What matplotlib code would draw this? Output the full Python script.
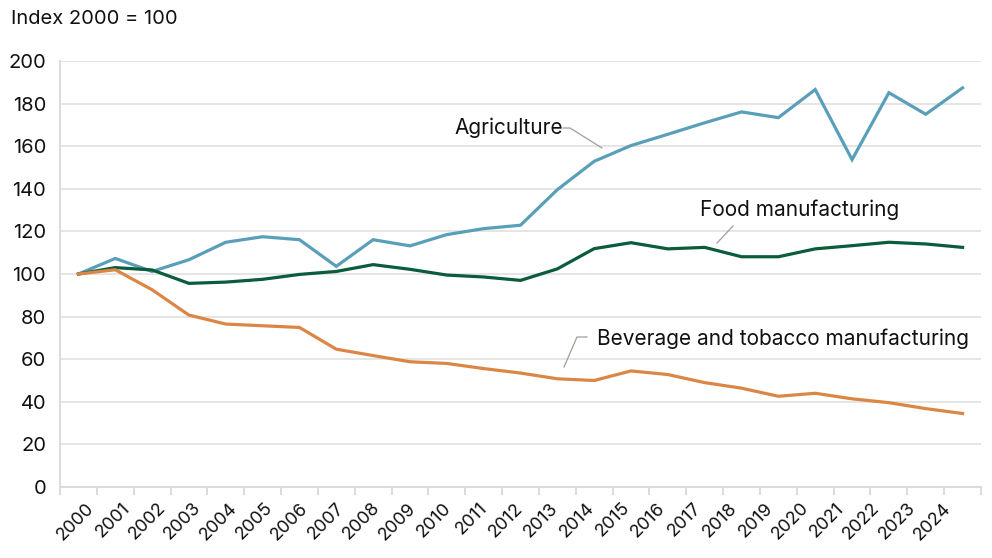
import matplotlib
matplotlib.use("Agg")
import matplotlib.pyplot as plt
import matplotlib.transforms as mtransforms
import numpy as np

years = [str(y) for y in range(2000, 2025)]
agriculture = [100, 107.3, 101.2, 106.7, 114.9, 117.5, 116.1, 103.6, 116.1, 113.2,
               118.5, 121.3, 122.9, 139.6, 152.9, 160.3, 165.6, 171.0, 176.1, 173.4,
               186.6, 153.7, 185.1, 175.0, 187.4]
food = [100, 103.0, 101.9, 95.6, 96.2, 97.5, 99.8, 101.2, 104.4, 102.2,
        99.5, 98.6, 97.0, 102.4, 111.9, 114.7, 111.8, 112.5, 108.1, 108.1,
        111.8, 113.3, 114.9, 114.1, 112.5]
beverage = [100, 102.0, 92.6, 80.7, 76.5, 75.7, 74.9, 64.7, 61.7, 58.8,
            58.0, 55.6, 53.5, 50.8, 50.0, 54.5, 52.8, 49.0, 46.4, 42.6,
            44.0, 41.4, 39.6, 36.8, 34.5]
y_ticks = [0, 20, 40, 60, 80, 100, 120, 140, 160, 180, 200]

plt.rcParams['font.family'] = ['Inter', 'DejaVu Sans']

fig = plt.figure(figsize=(9.92, 5.58), dpi=100)
ax = fig.add_axes([60/992, 1-487/558, (981-60)/992, (487-61)/558])

x = np.arange(len(years))
ax.plot(x, agriculture, color='#5a9fb9', lw=2.3, solid_joinstyle='miter', zorder=3)
ax.plot(x, food, color='#0a5c3a', lw=2.3, solid_joinstyle='miter', zorder=3)
ax.plot(x, beverage, color='#dc8646', lw=2.3, solid_joinstyle='miter', zorder=3)

ax.set_xlim(-0.5, len(years) - 0.5)
ax.set_ylim(0, 200)
ax.set_yticks(y_ticks)
ax.set_yticklabels([str(v) for v in y_ticks], fontsize=14.5)
ax.yaxis.grid(True, color='#e3e3e3', lw=1.3)
ax.set_axisbelow(True)
ax.tick_params(axis='y', length=0, pad=10, labelcolor='#111111')

ax.set_xticks(x)
ax.set_xticklabels(years, fontsize=13, rotation=45, ha='right',
                   rotation_mode='anchor', color='#111111')
ax.set_xticks(np.arange(-0.5, len(years), 1), minor=True)
ax.tick_params(axis='x', which='major', length=0, pad=9)
ax.tick_params(axis='x', which='minor', length=6, color='#d9d9d9', width=1.3)
n = len(years)
for i, lab in enumerate(ax.get_xticklabels()):
    dx = 7 - 27 * i / (n - 1)
    off = mtransforms.ScaledTranslation(dx/100, 0, fig.dpi_scale_trans)
    lab.set_transform(lab.get_transform() + off)

for s in ['top', 'right']:
    ax.spines[s].set_visible(False)
ax.spines['left'].set_color('#d9d9d9')
ax.spines['bottom'].set_color('#d9d9d9')
ax.spines['left'].set_linewidth(1.3)
ax.spines['bottom'].set_linewidth(1.3)

fig.text(11/992, 1-19/558, 'Index 2000 = 100', fontsize=14.5, ha='left', va='center', color='#111111')

def px(xp, yp):
    return (xp/992, 1-yp/558)

lead = dict(color='#a39d97', lw=0.9, transform=fig.transFigure)
fig.text(*px(563, 128), 'Agriculture', fontsize=15, ha='right', va='center', color='#111111')
fig.add_artist(plt.Line2D([563/992, 570/992, 602/992], [1-128/558, 1-128/558, 1-148/558], **lead))

fig.text(*px(700, 210), 'Food manufacturing', fontsize=15, ha='left', va='center', color='#111111')
fig.add_artist(plt.Line2D([733/992, 717/992], [1-226/558, 1-243/558], **lead))

fig.text(*px(597, 339), 'Beverage and tobacco manufacturing', fontsize=15, ha='left', va='center', color='#111111')
fig.add_artist(plt.Line2D([587/992, 577/992, 564/992], [1-337/558, 1-337/558, 1-367/558], **lead))

fig.savefig('out.png', dpi=100)
